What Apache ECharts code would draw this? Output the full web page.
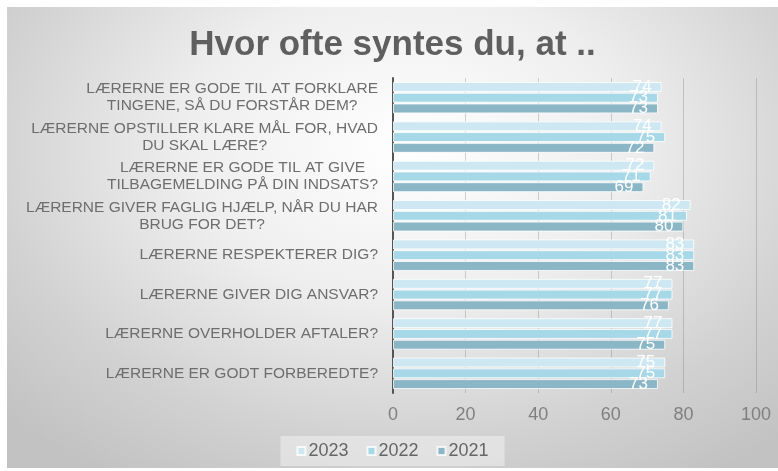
<!DOCTYPE html>
<html>
<head>
<meta charset="utf-8">
<script src="https://cdn.jsdelivr.net/npm/echarts@6/dist/echarts.min.js"></script>
<style>
html,body{margin:0;padding:0;background:#fff;width:778px;height:471px;overflow:hidden;}
#chart{position:absolute;left:7px;top:7px;width:771px;height:461px;
background:radial-gradient(ellipse 72% 85% at 52% 30%, #ffffff 0%, #eeeeee 40%, #d2d2d2 75%, #c2c2c2 100%);}
</style>
</head>
<body>
<div id="chart"></div>
<script>
const categories = [
  "LÆRERNE ER GODE TIL AT FORKLARE\nTINGENE, SÅ DU FORSTÅR DEM?",
  "LÆRERNE OPSTILLER KLARE MÅL FOR, HVAD\nDU SKAL LÆRE?",
  "LÆRERNE ER GODE TIL AT GIVE\nTILBAGEMELDING PÅ DIN INDSATS?",
  "LÆRERNE GIVER FAGLIG HJÆLP, NÅR DU HAR\nBRUG FOR DET?",
  "LÆRERNE RESPEKTERER DIG?",
  "LÆRERNE GIVER DIG ANSVAR?",
  "LÆRERNE OVERHOLDER AFTALER?",
  "LÆRERNE ER GODT FORBEREDTE?"
];
const values2023 = [74, 74, 72, 82, 83, 77, 77, 75];
const values2022 = [73, 75, 71, 81, 83, 77, 77, 75];
const values2021 = [73, 72, 69, 80, 83, 76, 75, 73];
const seriesNames = ["2023", "2022", "2021"];
const xTicks = [0, 20, 40, 60, 80, 100];

const colors = ["#cde8f2", "#a7d8e8", "#8bb6c6"];
const font = "Liberation Sans";

const chart = echarts.init(document.getElementById('chart'));
const dataSets = [values2023, values2022, values2021];

chart.setOption({
  backgroundColor: 'transparent',
  animation: false,
  title: {
    text: "Hvor ofte syntes du, at ..",
    left: 'center',
    top: 16,
    textStyle: {fontFamily: font, fontSize: 35, fontWeight: 'bold', color: '#5f5f5f'}
  },
  legend: {
    data: seriesNames,
    bottom: 2,
    left: 'center',
    icon: 'rect',
    itemWidth: 8,
    itemHeight: 8,
    itemGap: 18,
    padding: [6, 16],
    backgroundColor: 'rgba(240,240,240,0.55)',
    textStyle: {fontFamily: font, fontSize: 18, color: '#666666', padding: [0, 0, 0, -2]}
  },
  grid: {left: 386, right: 22, top: 71, bottom: 75, containLabel: false},
  xAxis: {
    type: 'value',
    min: xTicks[0],
    max: xTicks[xTicks.length - 1],
    interval: 20,
    axisLine: {show: false},
    axisTick: {show: false},
    splitLine: {show: true, lineStyle: {color: 'rgba(110,110,110,0.3)', width: 1}},
    axisLabel: {fontFamily: font, fontSize: 18, color: '#808080', margin: 13}
  },
  yAxis: {
    type: 'category',
    inverse: true,
    data: categories,
    axisLine: {show: true, lineStyle: {color: '#555555', width: 2}},
    axisTick: {show: false},
    axisLabel: {
      margin: 15,
      fontFamily: font,
      fontSize: 15.5,
      color: '#6e6e6e',
      lineHeight: 17,
      formatter: function (v) {
        return v.split('\n').map(function (l) { return '{c|' + l + '}'; }).join('\n');
      },
      rich: {c: {align: 'center', fontFamily: font, fontSize: 15.5, color: '#6e6e6e', lineHeight: 17}}
    }
  },
  series: seriesNames.map(function (name, i) {
    return {
      name: name,
      type: 'bar',
      data: dataSets[i],
      barGap: '8%',
      barCategoryGap: '20%',
      itemStyle: {color: colors[i], borderColor: 'rgba(255,255,255,0.8)', borderWidth: 1},
      label: {
        show: true,
        position: 'insideRight',
        distance: 10,
        color: '#ffffff',
        fontFamily: font,
        fontSize: 17
      }
    };
  })
});
</script>
</body>
</html>
